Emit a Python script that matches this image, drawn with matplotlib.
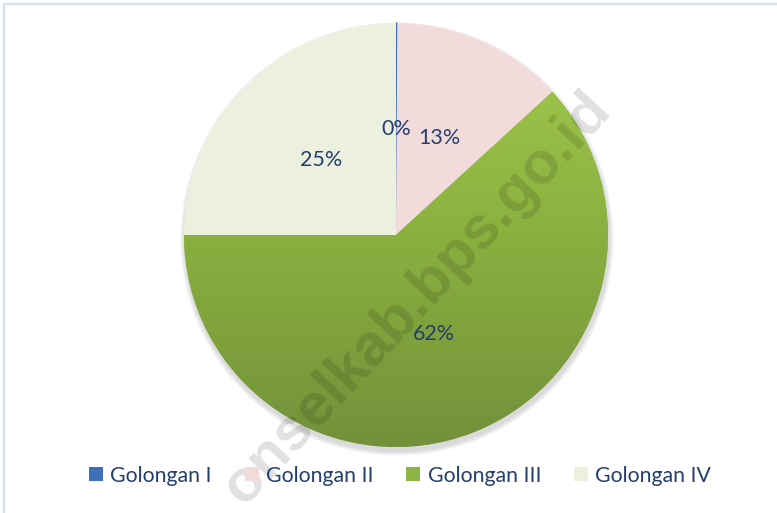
import numpy as np
import matplotlib.pyplot as plt
from matplotlib.patches import Circle, Rectangle
from matplotlib.colors import LinearSegmentedColormap

categories = ['Golongan I', 'Golongan II', 'Golongan III', 'Golongan IV']
shares = [0.1, 13.1, 61.8, 25.0]
colors = ['#3C70B8', '#F2DCDB', '#8DB545', '#EBF0DF']
text_color = '#243F6E'

plt.rcParams['font.family'] = ['Lato', 'DejaVu Sans']

fig = plt.figure(figsize=(7.77, 5.13), dpi=100)
ax = fig.add_axes([0, 0, 1, 1])

# pie placed in pixel units
cx, cy, r = 396, 278, 212

# soft shadow under the pie
for k in range(1, 7):
    ax.add_patch(Circle((cx + 1, cy - 4), r + k * 0.8, color='#808080', alpha=0.05, lw=0, zorder=0))

wedges, texts, autotexts = ax.pie(
    shares, colors=colors, startangle=90, counterclock=False,
    center=(cx, cy), radius=r, autopct=lambda p: f'{p:.0f}%', pctdistance=0.5,
    wedgeprops=dict(linewidth=0), textprops=dict(color=text_color, fontsize=15.5))
wedges[0].set_edgecolor(colors[0])
wedges[0].set_linewidth(0.6)
for t in autotexts:
    t.set_zorder(10)

# vertical gradient on the big green slice
grad = np.linspace(0, 1, 256).reshape(-1, 1)
cmap = LinearSegmentedColormap.from_list('grn', ['#A3CA4C', '#8AB040', '#72913A'])
im = ax.imshow(grad, cmap=cmap, extent=(cx - r, cx + r, cy - r, cy + r),
               origin='upper', aspect='auto', zorder=wedges[2].get_zorder() + 0.1)
im.set_clip_path(wedges[2])

# watermark
ax.text(417, 513 - 298, 'onselkab.bps.go.id', rotation=47, fontsize=43, fontweight='bold',
        family='Liberation Sans', color='black', alpha=0.12, ha='center', va='center',
        rotation_mode='anchor', zorder=5)

ax.set_xlim(0, 777)
ax.set_ylim(0, 513)
ax.set_aspect('equal')
ax.axis('off')

handles = [Rectangle((0, 0), 1, 1, fc=c, ec='none') for c in colors]
fig.legend(handles, categories, loc='center', bbox_to_anchor=(0.515, 0.073), ncol=4,
           frameon=False, fontsize=15.3, handlelength=0.65, handleheight=0.65,
           handletextpad=0.35, columnspacing=1.55, labelcolor=text_color)

fig.patches.append(Rectangle((4 / 777, -0.1), 1.2, 1.1 - 4.5 / 513, transform=fig.transFigure,
                             fill=False, edgecolor='#D6E2F0', lw=1.6))

fig.savefig('out.png', dpi=100)
